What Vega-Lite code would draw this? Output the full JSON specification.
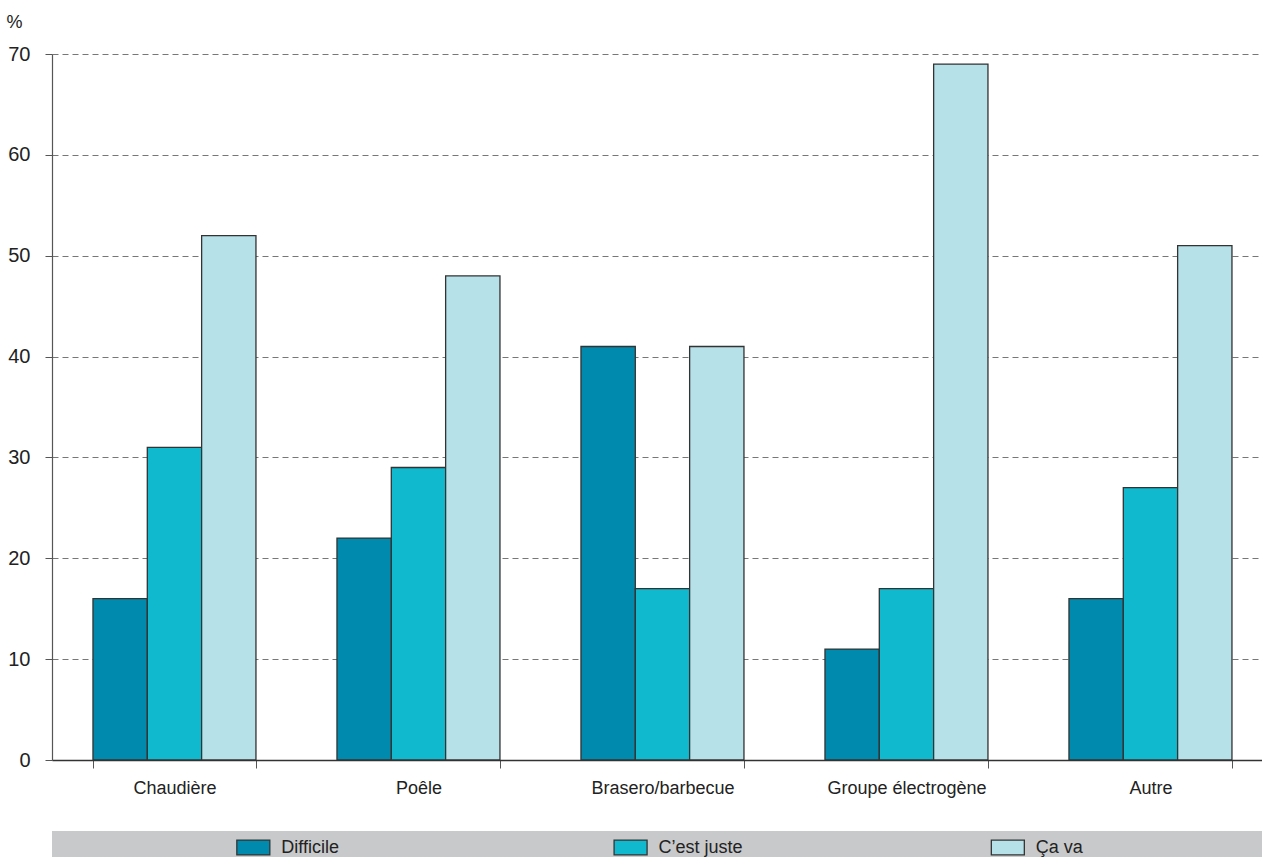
{
  "$schema": "https://vega.github.io/schema/vega-lite/v6.json",
  "padding": {"left": 5, "top": 13, "right": 0, "bottom": 0},
  "spacing": 34,
  "config": {"font": "Liberation Sans, Arial, sans-serif", "view": {"stroke": null}},
  "datasets": {
    "bars": [
      {"cat": "Chaudière", "serie": "Difficile", "value": 16},
      {"cat": "Chaudière", "serie": "C’est juste", "value": 31},
      {"cat": "Chaudière", "serie": "Ça va", "value": 52},
      {"cat": "Poêle", "serie": "Difficile", "value": 22},
      {"cat": "Poêle", "serie": "C’est juste", "value": 29},
      {"cat": "Poêle", "serie": "Ça va", "value": 48},
      {"cat": "Brasero/barbecue", "serie": "Difficile", "value": 41},
      {"cat": "Brasero/barbecue", "serie": "C’est juste", "value": 17},
      {"cat": "Brasero/barbecue", "serie": "Ça va", "value": 41},
      {"cat": "Groupe électrogène", "serie": "Difficile", "value": 11},
      {"cat": "Groupe électrogène", "serie": "C’est juste", "value": 17},
      {"cat": "Groupe électrogène", "serie": "Ça va", "value": 69},
      {"cat": "Autre", "serie": "Difficile", "value": 16},
      {"cat": "Autre", "serie": "C’est juste", "value": 27},
      {"cat": "Autre", "serie": "Ça va", "value": 51}
    ],
    "legend": [
      {"serie": "Difficile"},
      {"serie": "C’est juste"},
      {"serie": "Ça va"}
    ]
  },
  "vconcat": [
    {
      "width": 1210,
      "height": 706,
      "data": {"name": "bars"},
      "mark": {"type": "bar", "stroke": "#333333", "strokeWidth": 1.3},
      "encoding": {
        "x": {
          "field": "cat",
          "type": "nominal",
          "sort": ["Chaudière", "Poêle", "Brasero/barbecue", "Groupe électrogène", "Autre"],
          "scale": {"paddingInner": 0.332, "paddingOuter": 0.1455, "align": 0.577},
          "axis": {
            "title": null,
            "labelAngle": 0,
            "tickBand": "extent",
            "labelFontSize": 18,
            "labelColor": "#222222",
            "labelPadding": 11,
            "tickSize": 8,
            "tickColor": "#555555",
            "domainColor": "#333333",
            "domainWidth": 1.5,
            "grid": false
          }
        },
        "xOffset": {
          "field": "serie",
          "type": "nominal",
          "sort": ["Difficile", "C’est juste", "Ça va"]
        },
        "y": {
          "field": "value",
          "type": "quantitative",
          "scale": {"domain": [0, 70]},
          "axis": {
            "title": "%",
            "titleAngle": 0,
            "titleX": -38,
            "titleY": -32,
            "titleAlign": "center",
            "titleBaseline": "middle",
            "titleFontWeight": "normal",
            "titleFontSize": 18,
            "titleColor": "#222222",
            "values": [0, 10, 20, 30, 40, 50, 60, 70],
            "grid": true,
            "gridDash": [6, 4],
            "gridColor": "#777777",
            "labelFontSize": 20,
            "labelColor": "#222222",
            "labelPadding": 15,
            "tickSize": 7,
            "tickColor": "#555555",
            "domainColor": "#555555",
            "domainWidth": 1.2
          }
        },
        "color": {
          "field": "serie",
          "type": "nominal",
          "scale": {"domain": ["Difficile", "C’est juste", "Ça va"], "range": ["#008bae", "#10b9ce", "#b6e1e8"]},
          "legend": null
        }
      }
    },
    {
      "width": 1210,
      "height": 27,
      "view": {"fill": "#c8c9cb", "stroke": null},
      "data": {"name": "legend"},
      "layer": [
        {
          "mark": {"type": "point", "shape": "M-1,-0.45H1V0.45H-1Z", "size": 1089, "filled": true, "opacity": 1, "stroke": "#333333", "strokeWidth": 1.3, "yOffset": 3},
          "encoding": {
            "x": {"field": "serie", "type": "nominal", "sort": ["Difficile", "C’est juste", "Ça va"], "scale": {"type": "point", "padding": 0.6037, "align": 0.442}, "axis": null},
            "color": {"field": "serie", "type": "nominal", "legend": null}
          }
        },
        {
          "mark": {"type": "text", "align": "left", "baseline": "middle", "dx": 28, "yOffset": 3, "fontSize": 18, "color": "#222222"},
          "encoding": {
            "x": {"field": "serie", "type": "nominal", "sort": ["Difficile", "C’est juste", "Ça va"], "scale": {"type": "point", "padding": 0.6037, "align": 0.442}, "axis": null},
            "text": {"field": "serie"}
          }
        }
      ]
    }
  ]
}
